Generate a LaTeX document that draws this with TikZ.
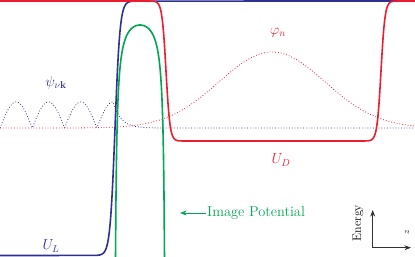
\documentclass[tikz,border=0pt]{standalone}
\usepackage{amsmath,amssymb}
\usepackage{xcolor}
\usepackage{tikz}
\usetikzlibrary{arrows.meta}
\definecolor{leadblue}{RGB}{46,49,146}
\definecolor{dotred}{RGB}{237,28,46}
\definecolor{imggreen}{RGB}{0,166,81}

\begin{document}
\begin{tikzpicture}[>=Stealth,x=1pt,y=-1pt,
  pot/.style={line width=1.6pt},
  wave/.style={dotted,line width=0.8pt},
  lbl/.style={font=\Large}]
\useasboundingbox (0,0) rectangle (415,257);
\clip (0,0) rectangle (415,257);
% wave functions
\draw[wave,dotred] plot[domain=0:415,samples=300] (\x,{128-76*exp(-0.5*((\x-272)/53)^2)});
\draw[wave,leadblue] plot[domain=0:113,samples=200] (\x,{128-26*abs(sin(\x/32.3*180))})
  -- plot[domain=113:200,samples=80] (\x,{128-26*exp(-(\x-113)/8)}) -- (415,128);
% potentials
\draw[pot,leadblue] (0,255.5) -- plot[domain=95:135,samples=120] (\x,{255.5-254.5/(1+exp(-(\x-115)/2.5))}) -- (415,1);
\draw[pot,dotred] (0,1) -- plot[domain=150:182,samples=100] (\x,{1+140/(1+exp(-(\x-166)/2))})
  -- plot[domain=365:397,samples=100] (\x,{141-140/(1+exp(-(\x-381)/2))}) -- (415,1);
\draw[pot,imggreen] plot[domain=115.5:164.5,samples=400] (\x,{-4.6+385*(1/(\x-114)+1/(166-\x))});
% labels
\node[lbl,leadblue] (psi) at (56,83) {$\psi_{\nu\mathbf{k}}$};
\node[lbl,dotred] (phi) at (278,33) {$\varphi_n$};
\node[lbl,dotred] (ud) at (281,160) {$U_D$};
\node[lbl,leadblue] (ul) at (51,246) {$U_L$};
\node[lbl,imggreen,anchor=west,inner sep=1pt] (ip) at (206,213) {Image Potential};
\coordinate (iptip) at (180,213);
\draw[->,imggreen,line width=0.8pt] (ip.west) -- (iptip);
% axes
\coordinate (o) at (372.7,247.7);
\coordinate (etop) at (372.7,210);
\coordinate (zend) at (411,247.7);
\draw[->,black!80,line width=0.8pt] (o) -- (etop);
\draw[->,black!80,line width=0.8pt] (o) -- (zend);
\node[rotate=90,font=\large] (energy) at (358,223) {Energy};
\node[rotate=90,font=\small] (zlab) at (407,232) {$z$};
\end{tikzpicture}
\end{document}
